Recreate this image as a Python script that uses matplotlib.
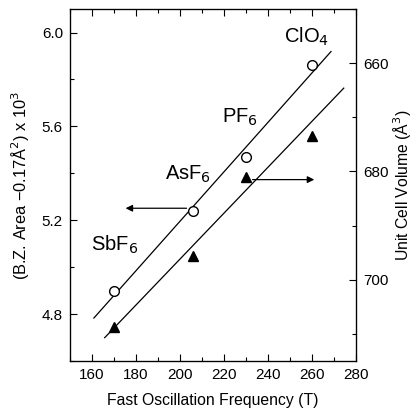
import matplotlib.pyplot as plt
from matplotlib.ticker import MultipleLocator

plt.rcParams['font.family'] = ['Liberation Sans', 'DejaVu Sans']

# anion salts, fast oscillation frequency (T)
salts = ['SbF$_6$', 'AsF$_6$', 'PF$_6$', 'ClO$_4$']
freq = [170, 206, 230, 260]
# left axis: B.Z. area - 0.17 A^2 (x 10^3)
bz_area = [4.90, 5.24, 5.47, 5.86]
# right axis: unit cell volume (A^3)
cell_vol = [708.7, 695.7, 681.1, 673.5]

# straight fit lines (end points)
fit_area_x = [160.9, 268.6]
fit_area_y = [4.783, 5.919]
fit_vol_x = [165.8, 274.4]
fit_vol_y = [710.7, 664.6]

# salt label positions (left-axis data coords)
label_x = [159.5, 193.0, 219.3, 247.4]
label_y = [5.069, 5.371, 5.614, 5.955]

fig = plt.figure(figsize=(4.16, 4.13), dpi=100)
ax = fig.add_axes([0.168, 0.126, 0.688, 0.852])
ax2 = ax.twinx()

ax.plot(fit_area_x, fit_area_y, color='black', lw=0.9)
ax.plot(freq, bz_area, 'o', mfc='white', mec='black', ms=7, mew=1.0)
ax2.plot(fit_vol_x, fit_vol_y, color='black', lw=0.9)
ax2.plot(freq, cell_vol, '^', color='black', ms=6.5)

for name, lx, ly in zip(salts, label_x, label_y):
    ax.text(lx, ly, name, fontsize=14.5, ha='left', va='baseline')

# arrows telling which axis each set belongs to
ax.annotate('', xy=(175.3, 5.251), xytext=(203.0, 5.251),
            arrowprops=dict(arrowstyle='-|>', color='black', lw=0.9,
                            mutation_scale=10, shrinkA=0, shrinkB=0))
ax2.annotate('', xy=(261.0, 681.5), xytext=(233.0, 681.5),
             arrowprops=dict(arrowstyle='-|>', color='black', lw=0.9,
                             mutation_scale=10, shrinkA=0, shrinkB=0))

ax.set_xlim(150, 280)
ax.set_ylim(4.6, 6.1)
ax2.set_ylim(715, 650)

ax.xaxis.set_major_locator(MultipleLocator(20))
ax.xaxis.set_minor_locator(MultipleLocator(10))
ax.yaxis.set_major_locator(MultipleLocator(0.4))
ax.yaxis.set_minor_locator(MultipleLocator(0.2))
ax.yaxis.set_major_formatter(plt.FormatStrFormatter('%.1f'))
ax2.yaxis.set_major_locator(MultipleLocator(20))
ax2.yaxis.set_minor_locator(MultipleLocator(10))

ax.tick_params(which='both', direction='in', top=True, labelsize=11, width=0.8)
ax.tick_params(which='major', length=5, pad=5)
ax.tick_params(which='minor', length=3)
ax2.tick_params(which='both', direction='in', labelsize=11, width=0.8)
ax2.tick_params(which='major', length=5, pad=5)
ax2.tick_params(which='minor', length=3)

for s in ax.spines.values():
    s.set_linewidth(0.9)

ax.set_xlabel('Fast Oscillation Frequency (T)', fontsize=11.3, labelpad=8)
ax.set_ylabel('(B.Z. Area \u22120.17\u00c5$^2$) x 10$^3$', fontsize=11.8, labelpad=8)
ax2.set_ylabel('Unit Cell Volume (\u00c5$^3$)', fontsize=11.3, labelpad=2)

fig.savefig('out.png', dpi=100)
